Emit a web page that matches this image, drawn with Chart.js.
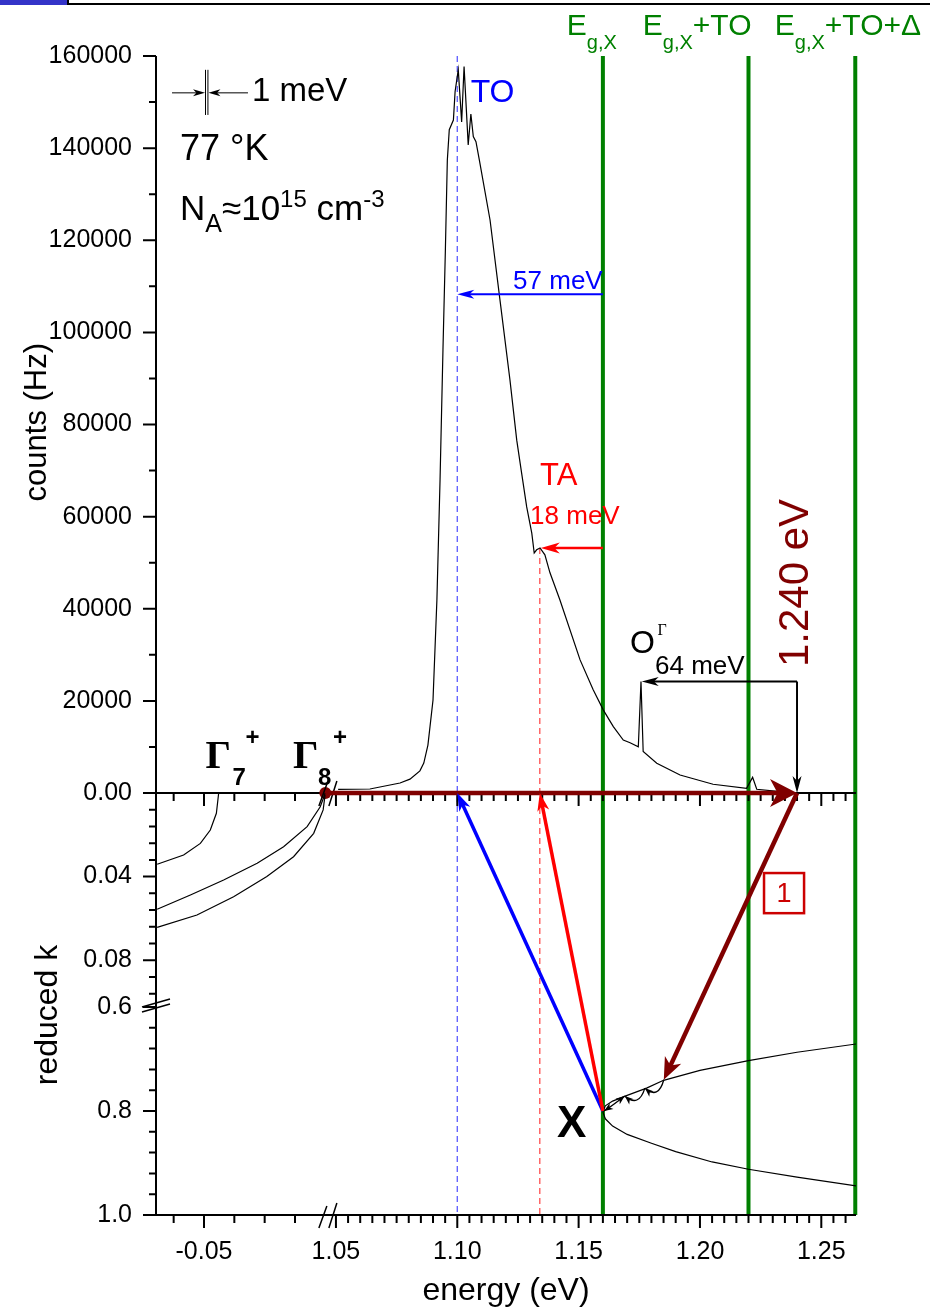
<!DOCTYPE html>
<html>
<head>
<meta charset="utf-8">
<script src="https://cdn.jsdelivr.net/npm/chart.js@4.4.1/dist/chart.umd.min.js"></script>
<style>
  html, body { margin: 0; padding: 0; background: #fff; }
</style>
</head>
<body>
<canvas id="myChart" width="930" height="1308"></canvas>
<script>
// photoluminescence spectrum: energy (eV) / counts (Hz)
var specEnergy = [1.0509, 1.0640, 1.0764, 1.0805, 1.0846, 1.0862, 1.0879, 1.0900, 1.0916, 1.0929, 1.0941, 1.0951, 1.0959,
  1.0967, 1.0984, 1.0991, 1.1004, 1.1018, 1.1028, 1.1045, 1.1056, 1.1066, 1.1077, 1.1091, 1.1135, 1.1176, 1.1217,
  1.1245, 1.1265, 1.1286, 1.1307, 1.1317, 1.1327, 1.1341, 1.1361, 1.1382, 1.1423, 1.1506, 1.1560, 1.1602, 1.1643,
  1.1684, 1.1712, 1.1746, 1.1757, 1.1766, 1.1822, 1.1918, 1.2054, 1.2192, 1.2217, 1.2234, 1.2330, 1.2400];
var specCounts = [800, 870, 2170, 3000, 4800, 6500, 10400, 20200, 41900, 68000, 96200, 118000, 137400,
  144000, 146100, 152300, 157000, 145700, 157700, 140700, 147400, 142500, 141400, 137400, 124400, 107000, 89700,
  76600, 69500, 62100, 56400, 52100, 52800, 53200, 51700, 47800, 41900, 28900, 22400, 18000, 14400,
  11500, 10900, 10050, 24200, 9000, 6450, 3900, 1900, 1000, 3400, 800, 300, 0];

// valence bands at Gamma: energy below the top (eV) / reduced k
var gamma7Energy = [-0.0440, -0.0449, -0.0474, -0.0515, -0.0584, -0.0693];
var gamma7K = [0.0005, 0.0097, 0.0177, 0.0241, 0.0297, 0.0341];
var gamma8aEnergy = [0, -0.0021, -0.0075, -0.0172, -0.0281, -0.0419, -0.0556, -0.0693];
var gamma8aK = [0, 0.0066, 0.0161, 0.0257, 0.0336, 0.0416, 0.0488, 0.0556];
var gamma8bEnergy = [0, -0.0009, -0.0048, -0.0131, -0.0241, -0.0378, -0.0529, -0.0693];
var gamma8bK = [0, 0.0081, 0.0193, 0.0305, 0.0400, 0.0496, 0.0584, 0.0643];

// conduction band near X
var xUpperEnergy = [1.1600, 1.1610, 1.1640, 1.1700, 1.1780, 1.1850, 1.2000, 1.2200, 1.2400, 1.2646];
var xUpperK = [0.802, 0.790, 0.781, 0.770, 0.756, 0.741, 0.722, 0.703, 0.687, 0.671];
var xLowerEnergy = [1.1600, 1.1610, 1.1640, 1.1700, 1.1800, 1.1900, 1.2050, 1.2200, 1.2400, 1.2646];
var xLowerK = [0.802, 0.815, 0.829, 0.845, 0.862, 0.878, 0.898, 0.912, 0.927, 0.944];

// marked energies (eV)
var egX = 1.16, egXTO = 1.22, egXTODelta = 1.264;
var toEnergy = 1.10, taEnergy = 1.134, laserEnergy = 1.240, oGammaEnergy = 1.176;
var oGammaCounts = 24200, toArrowCounts = 108300, taArrowCounts = 53200;
var xValley = [1.16, 0.80];
var cascade = [[1.1851, 0.740], [1.1773, 0.756], [1.1690, 0.771], [1.1605, 0.800]];

// tick labels
var energyTicks = [-0.05, 1.05, 1.10, 1.15, 1.20, 1.25];
var energyTickLabels = ['-0.05', '1.05', '1.10', '1.15', '1.20', '1.25'];
var countTicks = [20000, 40000, 60000, 80000, 100000, 120000, 140000, 160000];
var countTickLabels = ['20000', '40000', '60000', '80000', '100000', '120000', '140000', '160000'];
var kLowTicks = [0, 0.04, 0.08];
var kLowTickLabels = ['0.00', '0.04', '0.08'];
var kHighTicks = [0.6, 0.8, 1.0];
var kHighTickLabels = ['0.6', '0.8', '1.0'];

// energies near the valence band top are drawn left of the axis break
var BREAK_SHIFT = 1.04563;
var BREAK_AT = 1.0475;
function ex(e) { return e < 0.5 ? e + BREAK_SHIFT : e; }
function pts(es, vs) { return es.map(function (e, i) { return { x: ex(e), y: vs[i] }; }); }

var FAM = "'Liberation Sans', Arial, Helvetica, sans-serif";
function F(size, bold) { return (bold ? 'bold ' : '') + size + 'px ' + FAM; }

function head(ctx, x1, y1, x2, y2, len, half) {
  var a = Math.atan2(y2 - y1, x2 - x1);
  ctx.save();
  ctx.translate(x2, y2);
  ctx.rotate(a);
  ctx.beginPath();
  ctx.moveTo(0, 0);
  ctx.lineTo(-len, -half);
  ctx.lineTo(-len * 0.72, 0);
  ctx.lineTo(-len, half);
  ctx.closePath();
  ctx.fill();
  ctx.restore();
}
function arrow(ctx, x1, y1, x2, y2, color, width, len, half) {
  var d = Math.hypot(x2 - x1, y2 - y1), s = len * 0.6;
  ctx.strokeStyle = color;
  ctx.fillStyle = color;
  ctx.lineWidth = width;
  ctx.beginPath();
  ctx.moveTo(x1, y1);
  ctx.lineTo(x2 - (x2 - x1) / d * s, y2 - (y2 - y1) / d * s);
  ctx.stroke();
  head(ctx, x1, y1, x2, y2, len, half);
}
function runs(ctx, x, y, parts, color) {
  ctx.fillStyle = color;
  ctx.textAlign = 'left';
  ctx.textBaseline = 'alphabetic';
  parts.forEach(function (p) {
    ctx.font = p[1];
    ctx.fillText(p[0], x, y + (p[2] || 0));
    x += ctx.measureText(p[0]).width;
  });
}

var figure = {
  id: 'figure',
  beforeDraw: function (chart) {
    var c = chart.ctx;
    c.save();
    c.fillStyle = '#fff';
    c.fillRect(0, 0, chart.width, chart.height);
    // window strip at the top
    c.fillStyle = '#3434c8';
    c.fillRect(0, 0, 68, 5);
    c.strokeStyle = '#000';
    c.lineWidth = 2;
    c.beginPath();
    c.moveTo(68, 0); c.lineTo(68, 5);
    c.moveTo(68, 4); c.lineTo(930, 4);
    c.stroke();
    c.restore();
  },
  beforeDatasetsDraw: function (chart) {
    var c = chart.ctx, a = chart.chartArea, xs = chart.scales.x, ys = chart.scales.y;
    var X = function (u) { return xs.getPixelForValue(u); };
    c.save();
    // dashed phonon lines
    c.lineWidth = 1.3;
    c.setLineDash([6, 4]);
    c.strokeStyle = '#5a5aff';
    c.beginPath(); c.moveTo(X(toEnergy), a.top); c.lineTo(X(toEnergy), a.bottom); c.stroke();
    c.strokeStyle = '#ff5050';
    c.beginPath(); c.moveTo(X(taEnergy), ys.getPixelForValue(taArrowCounts)); c.lineTo(X(taEnergy), a.bottom); c.stroke();
    c.setLineDash([]);
    // band edge lines
    c.strokeStyle = '#008000';
    c.lineWidth = 4;
    [egX, egXTO, egXTODelta].forEach(function (e) {
      c.beginPath(); c.moveTo(X(e), a.top); c.lineTo(X(e), a.bottom); c.stroke();
    });

    // axes
    var yMid = chart.scales.k1.getPixelForValue(0);
    c.strokeStyle = '#000';
    c.lineWidth = 2;
    c.beginPath();
    c.moveTo(a.left, a.top); c.lineTo(a.left, a.bottom + 1);
    c.moveTo(a.left, yMid); c.lineTo(a.right, yMid);
    c.moveTo(a.left - 1, a.bottom); c.lineTo(a.right, a.bottom);
    c.stroke();

    // energy ticks on the middle and bottom axes
    var xt = [];
    var i, e;
    for (i = 0; i <= 5; i++) { e = -0.0625 + i * 0.0125; if (e < -0.001) xt.push([e, Math.abs(e + 0.05) < 1e-6]); }
    for (i = 0; i <= 43; i++) { e = 1.05 + i * 0.005; xt.push([e, i % 10 === 0]); }
    c.lineWidth = 2;
    c.beginPath();
    [yMid, a.bottom].forEach(function (y0) {
      xt.forEach(function (t) {
        var x = X(ex(t[0]));
        if (x < a.left + 2 || x > a.right + 1) return;
        c.moveTo(x, y0); c.lineTo(x, y0 + (t[1] ? 13 : 8));
      });
    });
    // y ticks
    var ytick = function (axis, v0, step, n, every, first) {
      var s = chart.scales[axis];
      for (var j = first; j <= n; j++) {
        var y = s.getPixelForValue(v0 + j * step);
        c.moveTo(a.left, y); c.lineTo(a.left - (j % every === 0 ? 13 : 7), y);
      }
    };
    ytick('y', 0, 10000, 16, 2, 1);
    ytick('k1', 0, 0.008, 12, 5, 0);
    ytick('k2', 0.6, 0.04, 10, 5, 0);
    c.stroke();
    c.restore();
  },
  afterDatasetsDraw: function (chart) {
    var c = chart.ctx, a = chart.chartArea, xs = chart.scales.x;
    var X = function (u) { return xs.getPixelForValue(u); };
    var Y = function (axis, v) { return chart.scales[axis].getPixelForValue(v); };
    var yMid = Y('k1', 0);
    c.save();

    // break marks
    c.strokeStyle = '#000';
    c.lineWidth = 1.5;
    var xb = X(BREAK_AT);
    [yMid, a.bottom].forEach(function (y0) {
      c.beginPath();
      c.moveTo(xb - 11, y0 + 13); c.lineTo(xb - 3, y0 - 9);
      c.moveTo(xb - 1, y0 + 13); c.lineTo(xb + 7, y0 - 12);
      c.stroke();
    });
    var yb = Y('k2', 0.6);
    c.beginPath();
    c.moveTo(a.left - 14, yb); c.lineTo(a.left + 14, yb - 8);
    c.moveTo(a.left - 14, yb + 5); c.lineTo(a.left + 14, yb - 3);
    c.stroke();

    // excitation and phonon arrows
    var xv = X(xValley[0]), yv = Y('k2', xValley[1]);
    arrow(c, X(BREAK_SHIFT), yMid, X(laserEnergy), yMid, '#800000', 4.5, 27, 14);
    arrow(c, X(laserEnergy), yMid, X(cascade[0][0]), Y('k2', cascade[0][1]), '#800000', 4.5, 22, 9);
    arrow(c, xv, yv, X(toEnergy), yMid, '#0000ff', 3.5, 18, 6);
    arrow(c, xv, yv, X(taEnergy), yMid, '#ff0000', 3.5, 18, 6);
    arrow(c, X(egX), Y('y', toArrowCounts), X(toEnergy), Y('y', toArrowCounts), '#0000ff', 2, 17, 4.5);
    arrow(c, X(egX), Y('y', taArrowCounts), X(taEnergy) + 1, Y('y', taArrowCounts), '#ff0000', 2.5, 19, 5.5);
    arrow(c, X(laserEnergy), Y('y', oGammaCounts), X(oGammaEnergy), Y('y', oGammaCounts), '#000', 2, 17, 4.5);
    arrow(c, X(laserEnergy), Y('y', oGammaCounts), X(laserEnergy), yMid, '#000', 2, 17, 4.5);

    // phonon cascade in the X valley
    c.lineWidth = 1.3;
    for (var i = 0; i < 3; i++) {
      var p = cascade[i], q = cascade[i + 1];
      var x1 = X(p[0]), y1 = Y('k2', p[1]), x2 = X(q[0]), y2 = Y('k2', q[1]);
      var cx = (x1 + x2) / 2 + (i === 2 ? -2 : 4), cy = (y1 + y2) / 2 + (i === 2 ? 2 : 16);
      c.strokeStyle = '#000'; c.fillStyle = '#000';
      c.beginPath(); c.moveTo(x1, y1); c.quadraticCurveTo(cx, cy, x2, y2); c.stroke();
      head(c, cx, cy, x2, y2, 9, 3.5);
      if (i === 2) head(c, cx, cy, x1, y1, 9, 3.5);
    }

    // resolution marker, 1 meV wide
    var r0 = 0.99625, r1 = 0.99725;
    c.lineWidth = 1;
    c.strokeStyle = '#000';
    c.beginPath();
    c.moveTo(X(r0), Y('y', 157000)); c.lineTo(X(r0), Y('y', 147200));
    c.moveTo(X(r1), Y('y', 157000)); c.lineTo(X(r1), Y('y', 147200));
    c.stroke();
    arrow(c, X(0.98245), Y('y', 152000), X(r0) - 0.5, Y('y', 152000), '#000', 1, 12, 3.5);
    arrow(c, X(1.01375), Y('y', 152000), X(r1) + 0.5, Y('y', 152000), '#000', 1, 12, 3.5);

    // texts
    runs(c, X(1.0154), Y('y', 150200), [['1 meV', F(33)]], '#000');
    runs(c, X(0.98575), Y('y', 137400), [['77 \u00b0K', F(36)]], '#000');
    runs(c, X(0.98575), Y('y', 124400), [['N', F(35)], ['A', F(25), 12], ['\u224810', F(35)], ['15', F(24), -13], [' cm', F(35)], ['-3', F(24), -13]], '#000');
    runs(c, X(1.1055), Y('y', 150100), [['TO', F(32)]], '#0000ff');
    runs(c, X(1.1230), Y('y', 109400), [['57 meV', F(26)]], '#0000ff');
    runs(c, X(1.1341), Y('y', 66900), [['TA', F(31)]], '#ff0000');
    runs(c, X(1.1300), Y('y', 58400), [['18 meV', F(26)]], '#ff0000');
    runs(c, X(1.1712), Y('y', 30300), [['O', F(32)]], '#000');
    runs(c, X(1.1825), Y('y', 34300), [['\u0393', "16px 'Liberation Serif', serif"]], '#000');
    runs(c, X(1.1815), Y('y', 25800), [['64 meV', F(26)]], '#000');
    runs(c, X(0.99626), Y('y', 5430), [['\u0393', "bold 40px 'Liberation Serif', serif"]], '#000');
    runs(c, X(1.0074), Y('y', 1740), [['7', F(24, true)]], '#000');
    runs(c, X(1.01276), Y('y', 10400), [['+', F(24, true)]], '#000');
    runs(c, X(1.03226), Y('y', 5430), [['\u0393', "bold 40px 'Liberation Serif', serif"]], '#000');
    runs(c, X(1.04256), Y('y', 1740), [['8', F(24, true)]], '#000');
    runs(c, X(1.04874), Y('y', 10400), [['+', F(24, true)]], '#000');
    c.textAlign = 'center';
    c.font = F(44, true);
    c.fillStyle = '#000';
    c.fillText('X', X(1.1471), Y('k2', 0.85));

    // band edge labels above the frame
    var yTop = Y('y', 164560);
    runs(c, X(1.14513), yTop, [['E', F(30)], ['g,X', F(20), 14]], '#008000');
    runs(c, X(1.17645), yTop, [['E', F(30)], ['g,X', F(20), 14], ['+TO', F(30)]], '#008000');
    runs(c, X(1.23084), yTop, [['E', F(30)], ['g,X', F(20), 14], ['+TO+\u0394', F(30)]], '#008000');

    // laser line label
    c.save();
    c.translate(X(1.2445), Y('y', 27350));
    c.rotate(-Math.PI / 2);
    c.font = F(42);
    c.fillStyle = '#800000';
    c.textAlign = 'left';
    c.fillText('1.240 eV', 0, 0);
    c.restore();

    // process number box
    var bx0 = X(1.2264), bx1 = X(1.2429), by0 = Y('k1', 0.0383), by1 = Y('k1', 0.0575);
    c.fillStyle = '#fff';
    c.fillRect(bx0, by0, bx1 - bx0, by1 - by0);
    c.strokeStyle = '#cc0000';
    c.lineWidth = 2.5;
    c.strokeRect(bx0, by0, bx1 - bx0, by1 - by0);
    c.fillStyle = '#cc0000';
    c.font = F(27);
    c.textAlign = 'center';
    c.textBaseline = 'middle';
    c.fillText('1', (bx0 + bx1) / 2, (by0 + by1) / 2 + 1);

    // axis titles
    c.fillStyle = '#000';
    c.textBaseline = 'alphabetic';
    c.font = F(31);
    c.save(); c.translate(46, Y('y', 80500)); c.rotate(-Math.PI / 2); c.fillText('counts (Hz)', 0, 0); c.restore();
    c.font = F(32);
    c.save(); c.translate(57, Y('k2', 0.6) + 8); c.rotate(-Math.PI / 2); c.fillText('reduced k', 0, 0); c.restore();
    c.fillText('energy (eV)', (a.left + a.right) / 2, 1300);
    c.restore();
  }
};

var tickFont = { family: FAM, size: 25 };
function yAxis(min, max, weight, reverse, ticks, labels) {
  return {
    type: 'linear', position: 'left', stack: 'left', stackWeight: weight,
    min: min, max: max, reverse: reverse,
    afterBuildTicks: function (s) { s.ticks = ticks.map(function (v) { return { value: v }; }); },
    afterFit: function (s) { s.width = 156; },
    ticks: { font: tickFont, color: '#000', padding: 24, callback: function (v, i) { return labels[i]; } },
    grid: { display: false, drawTicks: false },
    border: { display: false }
  };
}

var ctx = document.getElementById('myChart').getContext('2d');
var myChart = new Chart(ctx, {
  type: 'line',
  data: {
    datasets: [
      { data: pts(specEnergy, specCounts), yAxisID: 'y', borderColor: '#000', borderWidth: 1.2, pointRadius: 0 },
      { data: pts(gamma7Energy, gamma7K), yAxisID: 'k1', borderColor: '#000', borderWidth: 1.2, pointRadius: 0 },
      { data: pts(gamma8aEnergy, gamma8aK), yAxisID: 'k1', borderColor: '#000', borderWidth: 1.2, pointRadius: 0 },
      { data: pts(gamma8bEnergy, gamma8bK), yAxisID: 'k1', borderColor: '#000', borderWidth: 1.2, pointRadius: 0 },
      { data: pts(xUpperEnergy, xUpperK), yAxisID: 'k2', borderColor: '#000', borderWidth: 1.2, pointRadius: 0 },
      { data: pts(xLowerEnergy, xLowerK), yAxisID: 'k2', borderColor: '#000', borderWidth: 1.2, pointRadius: 0 },
      { data: pts([0], [0]), yAxisID: 'k1', showLine: false, pointRadius: 6, pointBackgroundColor: '#800000',
        pointBorderWidth: 0, clip: false }
    ]
  },
  options: {
    responsive: false,
    animation: false,
    devicePixelRatio: 1,
    layout: { padding: { left: 0, right: 74, top: 56, bottom: 0 } },
    plugins: { legend: { display: false }, tooltip: { enabled: false } },
    scales: {
      x: {
        type: 'linear', min: 0.97585, max: 1.2643,
        afterBuildTicks: function (s) { s.ticks = energyTicks.map(function (v) { return { value: ex(v) }; }); },
        afterFit: function (s) { s.height = 93; },
        ticks: { font: tickFont, color: '#000', padding: 22, maxRotation: 0, autoSkip: false,
          callback: function (v, i) { return energyTickLabels[i]; } },
        grid: { display: false, drawTicks: false },
        border: { display: false }
      },
      // stacked boxes are placed bottom-up, so the lowest panel comes first
      k2: yAxis(0.5904, 1.0, 213, true, kHighTicks, kHighTickLabels),
      k1: yAxis(0, 0.1, 209, true, kLowTicks, kLowTickLabels),
      y: yAxis(0, 160000, 737, false, countTicks, countTickLabels)
    }
  },
  plugins: [figure]
});
</script>
</body>
</html>
